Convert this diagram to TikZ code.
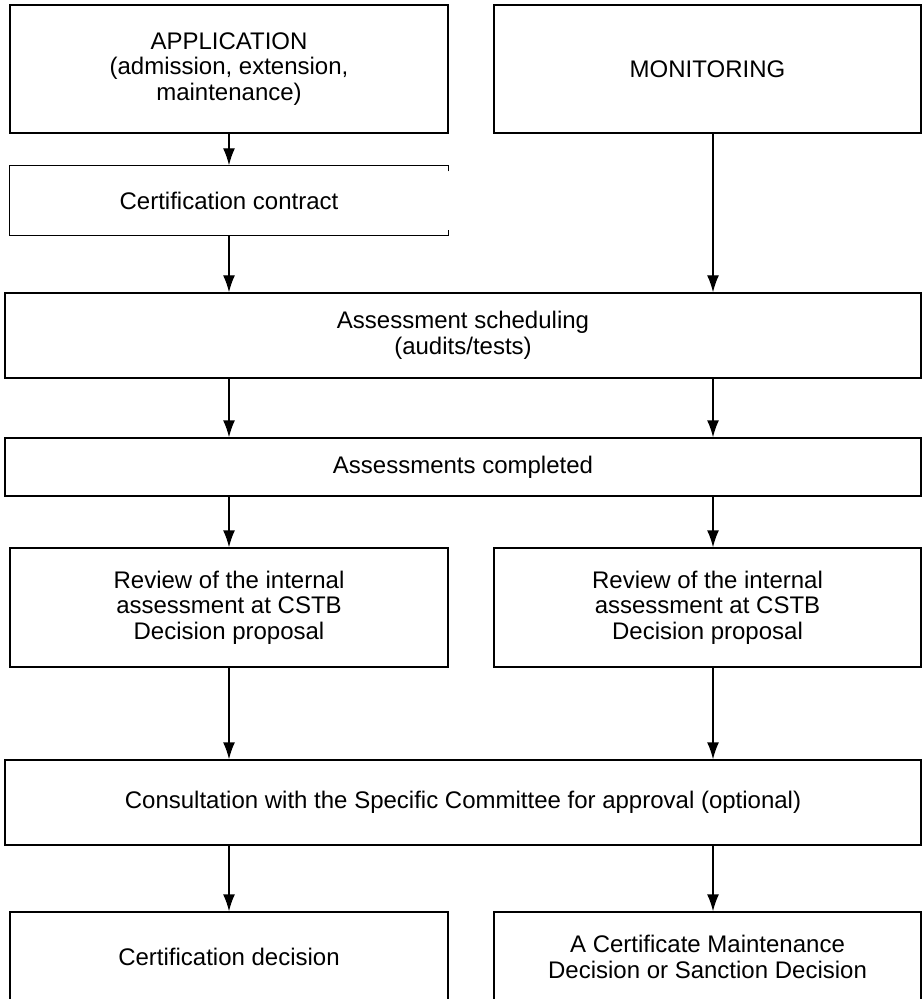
\documentclass[tikz,border=0pt]{standalone}
\usepackage{fontspec}
\setmainfont{Liberation Sans}
\usetikzlibrary{arrows.meta, positioning}
\tikzset{every box/.style={draw,line width=0.7pt,align=center,inner sep=0pt,
                           font=\fontsize{12}{12.75}\selectfont},
         halfbox/.style={every box,minimum width=219pt},
         widebox/.style={every box,minimum width=458pt},
         flow/.style={-{Latex[length=8.5pt,width=6pt]},line width=0.7pt}}

\begin{document}
\begin{tikzpicture}[x=0.5pt,y=-0.5pt]
        \useasboundingbox (0,0) rectangle (923,999);
        \node[halfbox, minimum height=64pt](app)at(229,69){APPLICATION\\(admission, extension,\\maintenance)};
        \node[halfbox, minimum width=213.5pt, minimum height=64pt](mon)at(707.5,69){MONITORING};
        \node[halfbox, draw=none, minimum height=34.5pt](cert)at(229,200.5){Certification contract};
        \node[widebox, minimum height=42.5pt](sched)at(463,335.5){Assessment scheduling\\(audits/tests)};
        \node[widebox, minimum height=29pt](done)at(463,467){Assessments completed};
        \node[halfbox, minimum height=59.5pt](rev1)at(229,607.5){Review of the internal\\assessment at CSTB\\Decision proposal};
        \node[halfbox, minimum width=213.5pt, minimum height=59.5pt](rev2)at(707.5,607.5){Review of the internal\\assessment at CSTB\\Decision proposal};
        \node[widebox, minimum height=42.5pt](cons)at(463,802.5){Consultation with the Specific Committee for approval (optional)};
        \node[halfbox, minimum height=45pt](dec1)at(229,957){Certification decision};
        \node[halfbox, minimum width=213.5pt, minimum height=45pt](dec2)at(707.5,957){A Certificate Maintenance\\Decision or Sanction Decision};
        \coordinate (lx) at (229,0);
        \coordinate (rx) at (713,0);

        % open right side of the contract box
        \draw[line width=0.7pt]([yshift=-3pt]cert.north east)--(cert.north east)--(cert.north west)
            --(cert.south west)--(cert.south east)--([yshift=3pt]cert.south east);

        \draw[flow](app.south)--(cert.north);
        \draw[flow](cert.south)--(sched.north -| lx);
        \draw[flow](mon.south -| rx)--(sched.north -| rx);
        \draw[flow](sched.south -| lx)--(done.north -| lx);
        \draw[flow](sched.south -| rx)--(done.north -| rx);
        \draw[flow](done.south -| lx)--(rev1.north);
        \draw[flow](done.south -| rx)--(rev2.north -| rx);
        \draw[flow](rev1.south)--(cons.north -| lx);
        \draw[flow](rev2.south -| rx)--(cons.north -| rx);
        \draw[flow](cons.south -| lx)--(dec1.north);
        \draw[flow](cons.south -| rx)--(dec2.north -| rx);
    \end{tikzpicture}
\end{document}
